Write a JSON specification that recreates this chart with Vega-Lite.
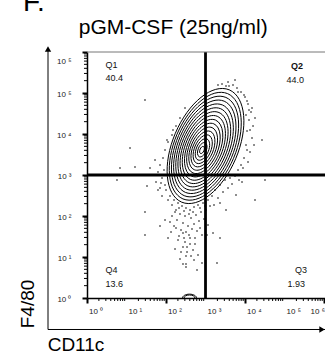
{
  "$schema": "https://vega.github.io/schema/vega-lite/v6.json",
  "width": 238,
  "height": 246,
  "autosize": {"type": "none"},
  "padding": {"left": 87, "top": 52, "right": 0, "bottom": 56},
  "config": {"view": {"stroke": null}, "font": "Liberation Sans", "axis": {"labelOverlap": false}},
  "datasets": {
    "dots": [
      {"CD11c": 3.570, "F4_80": 5.268}, {"CD11c": 3.696, "F4_80": 5.195}, {"CD11c": 3.797, "F4_80": 5.122},
      {"CD11c": 3.899, "F4_80": 5.024}, {"CD11c": 3.519, "F4_80": 5.171}, {"CD11c": 4.000, "F4_80": 4.902},
      {"CD11c": 4.076, "F4_80": 4.732}, {"CD11c": 4.101, "F4_80": 4.585}, {"CD11c": 4.152, "F4_80": 4.537},
      {"CD11c": 4.101, "F4_80": 4.341}, {"CD11c": 4.203, "F4_80": 4.195}, {"CD11c": 4.051, "F4_80": 4.073},
      {"CD11c": 4.177, "F4_80": 3.902}, {"CD11c": 4.025, "F4_80": 3.732}, {"CD11c": 4.127, "F4_80": 3.561},
      {"CD11c": 3.975, "F4_80": 3.415}, {"CD11c": 3.899, "F4_80": 3.244}, {"CD11c": 4.076, "F4_80": 3.317},
      {"CD11c": 3.823, "F4_80": 3.122}, {"CD11c": 3.747, "F4_80": 2.976}, {"CD11c": 4.253, "F4_80": 4.390},
      {"CD11c": 4.051, "F4_80": 4.805}, {"CD11c": 3.975, "F4_80": 4.951}, {"CD11c": 3.595, "F4_80": 5.171},
      {"CD11c": 3.418, "F4_80": 5.220}, {"CD11c": 3.316, "F4_80": 5.195}, {"CD11c": 3.747, "F4_80": 5.317},
      {"CD11c": 2.481, "F4_80": 4.634}, {"CD11c": 2.354, "F4_80": 4.390}, {"CD11c": 2.253, "F4_80": 4.195},
      {"CD11c": 2.152, "F4_80": 3.976}, {"CD11c": 2.051, "F4_80": 3.805}, {"CD11c": 1.975, "F4_80": 3.610},
      {"CD11c": 1.924, "F4_80": 3.415}, {"CD11c": 1.848, "F4_80": 3.244}, {"CD11c": 1.797, "F4_80": 3.073},
      {"CD11c": 1.899, "F4_80": 2.927}, {"CD11c": 1.747, "F4_80": 2.829}, {"CD11c": 1.848, "F4_80": 2.683},
      {"CD11c": 2.000, "F4_80": 2.634}, {"CD11c": 2.101, "F4_80": 2.488}, {"CD11c": 2.203, "F4_80": 2.390},
      {"CD11c": 1.899, "F4_80": 2.488}, {"CD11c": 1.646, "F4_80": 3.000}, {"CD11c": 1.595, "F4_80": 3.171},
      {"CD11c": 1.722, "F4_80": 3.366}, {"CD11c": 1.519, "F4_80": 2.732}, {"CD11c": 1.468, "F4_80": 2.098},
      {"CD11c": 2.025, "F4_80": 3.854}, {"CD11c": 2.177, "F4_80": 4.098},
      {"CD11c": 2.304, "F4_80": 2.317}, {"CD11c": 2.405, "F4_80": 2.244}, {"CD11c": 2.506, "F4_80": 2.195},
      {"CD11c": 2.608, "F4_80": 2.146}, {"CD11c": 2.709, "F4_80": 2.220}, {"CD11c": 2.810, "F4_80": 2.268},
      {"CD11c": 2.937, "F4_80": 2.317}, {"CD11c": 3.063, "F4_80": 2.390}, {"CD11c": 3.165, "F4_80": 2.488},
      {"CD11c": 2.253, "F4_80": 2.146}, {"CD11c": 2.354, "F4_80": 2.049}, {"CD11c": 2.481, "F4_80": 2.000},
      {"CD11c": 2.633, "F4_80": 1.951}, {"CD11c": 2.759, "F4_80": 2.024}, {"CD11c": 2.886, "F4_80": 2.098},
      {"CD11c": 3.013, "F4_80": 2.146}, {"CD11c": 3.114, "F4_80": 2.244}, {"CD11c": 2.152, "F4_80": 2.000},
      {"CD11c": 2.278, "F4_80": 1.902}, {"CD11c": 2.430, "F4_80": 1.829}, {"CD11c": 2.557, "F4_80": 1.756},
      {"CD11c": 2.709, "F4_80": 1.805}, {"CD11c": 2.835, "F4_80": 1.878}, {"CD11c": 2.962, "F4_80": 1.927},
      {"CD11c": 2.380, "F4_80": 1.659}, {"CD11c": 2.506, "F4_80": 1.610}, {"CD11c": 2.658, "F4_80": 1.683},
      {"CD11c": 2.785, "F4_80": 1.634}, {"CD11c": 2.203, "F4_80": 1.756}, {"CD11c": 2.127, "F4_80": 1.610},
      {"CD11c": 2.430, "F4_80": 1.585}, {"CD11c": 2.911, "F4_80": 1.537}, {"CD11c": 3.038, "F4_80": 1.537},
      {"CD11c": 3.190, "F4_80": 1.585}, {"CD11c": 3.367, "F4_80": 1.463}, {"CD11c": 2.304, "F4_80": 1.415},
      {"CD11c": 2.481, "F4_80": 1.366}, {"CD11c": 2.608, "F4_80": 1.463}, {"CD11c": 2.734, "F4_80": 1.317},
      {"CD11c": 2.430, "F4_80": 1.244}, {"CD11c": 2.532, "F4_80": 1.244}, {"CD11c": 2.228, "F4_80": 1.195},
      {"CD11c": 2.532, "F4_80": 1.122}, {"CD11c": 2.506, "F4_80": 1.024}, {"CD11c": 2.633, "F4_80": 1.024},
      {"CD11c": 2.354, "F4_80": 0.951}, {"CD11c": 2.430, "F4_80": 0.829}, {"CD11c": 2.506, "F4_80": 0.829},
      {"CD11c": 2.506, "F4_80": 0.756}, {"CD11c": 2.911, "F4_80": 0.854}, {"CD11c": 3.291, "F4_80": 0.854},
      {"CD11c": 2.785, "F4_80": 0.683}, {"CD11c": 2.684, "F4_80": 1.171}, {"CD11c": 2.810, "F4_80": 1.049},
      {"CD11c": 1.975, "F4_80": 1.902}, {"CD11c": 1.848, "F4_80": 1.756}, {"CD11c": 2.051, "F4_80": 1.463},
      {"CD11c": 3.241, "F4_80": 2.634}, {"CD11c": 3.367, "F4_80": 2.756}, {"CD11c": 3.494, "F4_80": 2.878},
      {"CD11c": 3.620, "F4_80": 2.927}, {"CD11c": 3.316, "F4_80": 2.439}, {"CD11c": 3.443, "F4_80": 2.585},
      {"CD11c": 3.570, "F4_80": 2.683}, {"CD11c": 3.671, "F4_80": 2.780}, {"CD11c": 3.215, "F4_80": 2.268},
      {"CD11c": 3.367, "F4_80": 2.317}, {"CD11c": 3.772, "F4_80": 2.512}, {"CD11c": 3.924, "F4_80": 2.829},
      {"CD11c": 3.519, "F4_80": 2.146},
      {"CD11c": 1.089, "F4_80": 3.659}, {"CD11c": 1.215, "F4_80": 3.195}, {"CD11c": 0.759, "F4_80": 2.878},
      {"CD11c": 0.835, "F4_80": 3.171}, {"CD11c": 1.468, "F4_80": 4.829}, {"CD11c": 4.430, "F4_80": 3.854},
      {"CD11c": 4.506, "F4_80": 2.878}, {"CD11c": 4.253, "F4_80": 2.390}, {"CD11c": 1.468, "F4_80": 1.537},
      {"CD11c": 2.152, "F4_80": 2.268}, {"CD11c": 2.051, "F4_80": 2.390}, {"CD11c": 2.228, "F4_80": 2.098},
      {"CD11c": 2.329, "F4_80": 2.195}, {"CD11c": 2.456, "F4_80": 2.122}, {"CD11c": 2.582, "F4_80": 2.049},
      {"CD11c": 2.684, "F4_80": 2.098}, {"CD11c": 2.861, "F4_80": 2.195}, {"CD11c": 2.987, "F4_80": 2.244},
      {"CD11c": 2.101, "F4_80": 1.854}, {"CD11c": 2.253, "F4_80": 1.707}, {"CD11c": 2.582, "F4_80": 1.537},
      {"CD11c": 2.734, "F4_80": 1.463}, {"CD11c": 2.329, "F4_80": 1.512}, {"CD11c": 2.456, "F4_80": 1.463},
      {"CD11c": 2.861, "F4_80": 1.707}, {"CD11c": 3.063, "F4_80": 1.780}, {"CD11c": 2.608, "F4_80": 1.317},
      {"CD11c": 2.380, "F4_80": 1.122}, {"CD11c": 2.709, "F4_80": 0.927}, {"CD11c": 4.127, "F4_80": 4.098},
      {"CD11c": 4.228, "F4_80": 3.732}, {"CD11c": 4.051, "F4_80": 3.610}, {"CD11c": 3.949, "F4_80": 3.171},
      {"CD11c": 3.848, "F4_80": 2.878}, {"CD11c": 4.177, "F4_80": 4.634}, {"CD11c": 4.025, "F4_80": 4.463},
      {"CD11c": 3.823, "F4_80": 5.024}, {"CD11c": 1.949, "F4_80": 3.122}, {"CD11c": 1.873, "F4_80": 2.805},
      {"CD11c": 1.797, "F4_80": 2.634}, {"CD11c": 1.975, "F4_80": 2.756}
    ],
    "rings": [
      {"ring": 1, "CD11c": 2.911, "F4_80": 3.610},
      {"ring": 2, "CD11c": 2.917, "F4_80": 3.616},
      {"ring": 3, "CD11c": 2.923, "F4_80": 3.623},
      {"ring": 4, "CD11c": 2.929, "F4_80": 3.629},
      {"ring": 5, "CD11c": 2.935, "F4_80": 3.636},
      {"ring": 6, "CD11c": 2.941, "F4_80": 3.642},
      {"ring": 7, "CD11c": 2.947, "F4_80": 3.649},
      {"ring": 8, "CD11c": 2.953, "F4_80": 3.655},
      {"ring": 9, "CD11c": 2.958, "F4_80": 3.662},
      {"ring": 10, "CD11c": 2.964, "F4_80": 3.668},
      {"ring": 11, "CD11c": 2.970, "F4_80": 3.675},
      {"ring": 12, "CD11c": 2.976, "F4_80": 3.681},
      {"ring": 13, "CD11c": 2.982, "F4_80": 3.688},
      {"ring": 14, "CD11c": 2.988, "F4_80": 3.694},
      {"ring": 15, "CD11c": 2.994, "F4_80": 3.701},
      {"ring": 16, "CD11c": 3.000, "F4_80": 3.707}
    ],
    "baseArcs": [
      {"ring": 1.84, "CD11c": 2.595, "F4_80": 0},
      {"ring": 1.44, "CD11c": 2.595, "F4_80": 0}
    ],
    "minor": [
      {"v": 0.301}, {"v": 0.477}, {"v": 0.602}, {"v": 0.699}, {"v": 0.778}, {"v": 0.845}, {"v": 0.903}, {"v": 0.954},
      {"v": 1.301}, {"v": 1.477}, {"v": 1.602}, {"v": 1.699}, {"v": 1.778}, {"v": 1.845}, {"v": 1.903}, {"v": 1.954},
      {"v": 2.301}, {"v": 2.477}, {"v": 2.602}, {"v": 2.699}, {"v": 2.778}, {"v": 2.845}, {"v": 2.903}, {"v": 2.954},
      {"v": 3.301}, {"v": 3.477}, {"v": 3.602}, {"v": 3.699}, {"v": 3.778}, {"v": 3.845}, {"v": 3.903}, {"v": 3.954},
      {"v": 4.301}, {"v": 4.477}, {"v": 4.602}, {"v": 4.699}, {"v": 4.778}, {"v": 4.845}, {"v": 4.903}, {"v": 4.954},
      {"v": 5.301}, {"v": 5.477}, {"v": 5.602}, {"v": 5.699}, {"v": 5.778}, {"v": 5.845}, {"v": 5.903}, {"v": 5.954}
    ],
    "xlabels": [
      {"v": 0, "lab": "10 ⁰"}, {"v": 1, "lab": "10 ¹"}, {"v": 2, "lab": "10 ²"}, {"v": 3, "lab": "10 ³"},
      {"v": 4, "lab": "10 ⁴"}, {"v": 5, "lab": "10 ⁵"}, {"v": 6, "lab": "10 ⁶"}
    ],
    "labels": [
      {"t": "Q1", "CD11c": 0.468, "F4_80": 5.683},
      {"t": "40.4", "CD11c": 0.468, "F4_80": 5.366},
      {"t": "Q4", "CD11c": 0.468, "F4_80": 0.683},
      {"t": "13.6", "CD11c": 0.468, "F4_80": 0.341},
      {"t": "Q2", "CD11c": 5.468, "F4_80": 5.659},
      {"t": "44.0", "CD11c": 5.494, "F4_80": 5.317},
      {"t": "Q3", "CD11c": 5.570, "F4_80": 0.683},
      {"t": "1.93", "CD11c": 5.519, "F4_80": 0.341}
    ]
  },
  "layer": [
    {
      "data": {"name": "dots"},
      "mark": {"type": "point", "shape": "square", "filled": true, "size": 2.5, "color": "#000", "opacity": 0.75, "strokeWidth": 0},
      "encoding": {
        "x": {
          "field": "CD11c", "type": "quantitative",
          "scale": {"domain": [0, 6.025], "nice": false, "zero": false},
          "axis": {
            "title": "CD11c", "titleFont": "Liberation Sans", "titleFontSize": 19, "titleFontWeight": "normal", "titleColor": "#000",
            "titleX": -11.5, "titleY": 52, "titleAlign": "center", "titleBaseline": "alphabetic", "titleAngle": 0,
            "values": [0, 1, 2, 3, 4, 5, 6],
            "labels": false,
            "tickSize": 5, "tickWidth": 2,
            "tickColor": "#000", "domainColor": "#000", "domainWidth": 1.5, "grid": false
          }
        },
        "y": {
          "field": "F4_80", "type": "quantitative",
          "scale": {"domain": [0, 6], "nice": false, "zero": false},
          "axis": {
            "title": "F4/80", "titleFont": "Liberation Sans", "titleFontSize": 19, "titleFontWeight": "normal", "titleColor": "#000",
            "titleX": -54, "titleY": 251.5, "titleAlign": "center", "titleBaseline": "alphabetic", "titleAngle": -90,
            "values": [0, 1, 2, 3, 4, 5, 6],
            "labelExpr": "'10 ' + ['⁰','¹','²','³','⁴','⁵','⁵'][datum.value]",
            "labelFont": "Liberation Sans", "labelFontSize": 8, "labelColor": "#222", "labelPadding": 11,
            "labelOverlap": false, "labelBound": false, "labelFlush": false,
            "labelAlign": "right", "labelBaseline": "middle",
            "labelOffset": {"condition": {"test": "datum.value > 5.99", "value": 9}, "value": 1},
            "tickSize": 5, "tickWidth": 2,
            "tickColor": "#000", "domainColor": "#000", "domainWidth": 1.5, "grid": false
          }
        }
      }
    },
    {
      "data": {"name": "minor"},
      "mark": {"type": "rule", "color": "#000", "strokeWidth": 1},
      "encoding": {"x": {"field": "v", "type": "quantitative"}, "y": {"datum": 0}, "y2": {"datum": -0.073}}
    },
    {
      "data": {"name": "minor"},
      "mark": {"type": "rule", "color": "#000", "strokeWidth": 1},
      "encoding": {"y": {"field": "v", "type": "quantitative"}, "x": {"datum": 0}, "x2": {"datum": -0.076}}
    },
    {
      "data": {"name": "xlabels"},
      "transform": [{"filter": "datum.v < 5.5"}],
      "mark": {"type": "text", "align": "left", "baseline": "alphabetic", "dx": 2, "dy": 16, "font": "Liberation Sans", "fontSize": 8, "color": "#222"},
      "encoding": {"x": {"field": "v", "type": "quantitative"}, "y": {"datum": 0}, "text": {"field": "lab"}}
    },
    {
      "data": {"name": "xlabels"},
      "transform": [{"filter": "datum.v > 5.5"}],
      "mark": {"type": "text", "align": "right", "baseline": "alphabetic", "dx": 1, "dy": 16, "font": "Liberation Sans", "fontSize": 8, "color": "#222"},
      "encoding": {"x": {"field": "v", "type": "quantitative"}, "y": {"datum": 0}, "text": {"field": "lab"}}
    },
    {
      "data": {"name": "rings"},
      "mark": {"type": "point", "shape": "M0.3907,-0.9205A1,0.54,-67,0,1,-0.3907,0.9205A1,0.54,-67,0,1,0.3907,-0.9205Z", "filled": false, "color": "#000", "strokeWidth": 1, "opacity": 1},
      "encoding": {
        "x": {"field": "CD11c", "type": "quantitative"},
        "y": {"field": "F4_80", "type": "quantitative"},
        "size": {"field": "ring", "type": "quantitative", "scale": {"type": "pow", "exponent": 2, "domain": [0, 16], "range": [0, 14884]}, "legend": null}
      }
    },
    {
      "data": {"name": "baseArcs"},
      "mark": {"type": "point", "shape": "M-1,0A1,0.55,0,0,1,1,0A1,0.55,0,0,1,-1,0Z", "filled": false, "color": "#000", "strokeWidth": 1, "opacity": 1, "clip": true},
      "encoding": {
        "x": {"field": "CD11c", "type": "quantitative"},
        "y": {"field": "F4_80", "type": "quantitative"},
        "size": {"field": "ring", "type": "quantitative", "legend": null}
      }
    },
    {
      "data": {"values": [{}]},
      "mark": {"type": "rule", "color": "#000", "strokeWidth": 2.8},
      "encoding": {"x": {"datum": 3}}
    },
    {
      "data": {"values": [{}]},
      "mark": {"type": "rule", "color": "#000", "strokeWidth": 2.8},
      "encoding": {"y": {"datum": 3}}
    },
    {
      "data": {"values": [{}]},
      "mark": {"type": "rule", "color": "#777", "strokeWidth": 1},
      "encoding": {"y": {"datum": 6}}
    },
    {
      "data": {"values": [{}]},
      "mark": {"type": "rule", "color": "#000", "strokeWidth": 1},
      "encoding": {"x": {"datum": -0.987}, "y": {"datum": -0.768}, "y2": {"datum": 6.05}}
    },
    {
      "data": {"values": [{}]},
      "mark": {"type": "rule", "color": "#000", "strokeWidth": 1},
      "encoding": {"x": {"datum": -0.987}, "x2": {"datum": 6.3}, "y": {"datum": -0.768}}
    },
    {
      "data": {"values": [{}]},
      "mark": {"type": "point", "shape": "triangle-up", "filled": true, "size": 40, "color": "#000", "opacity": 1},
      "encoding": {"x": {"datum": -0.987}, "y": {"datum": 6.073}}
    },
    {
      "data": {"values": [{}]},
      "mark": {"type": "point", "shape": "triangle-right", "filled": true, "size": 40, "color": "#000", "opacity": 1},
      "encoding": {"x": {"datum": 5.95}, "y": {"datum": -0.768}}
    },
    {
      "data": {"name": "labels"},
      "transform": [{"filter": "datum.CD11c < 3"}],
      "mark": {"type": "text", "align": "left", "baseline": "middle", "font": "Liberation Sans", "fontSize": 9, "color": "#111"},
      "encoding": {
        "x": {"field": "CD11c", "type": "quantitative"},
        "y": {"field": "F4_80", "type": "quantitative"},
        "text": {"field": "t"}
      }
    },
    {
      "data": {"name": "labels"},
      "transform": [{"filter": "datum.CD11c > 3 && datum.t != 'Q2'"}],
      "mark": {"type": "text", "align": "right", "baseline": "middle", "font": "Liberation Sans", "fontSize": 9, "color": "#111"},
      "encoding": {
        "x": {"field": "CD11c", "type": "quantitative"},
        "y": {"field": "F4_80", "type": "quantitative"},
        "text": {"field": "t"}
      }
    },
    {
      "data": {"name": "labels"},
      "transform": [{"filter": "datum.t == 'Q2'"}],
      "mark": {"type": "text", "align": "right", "baseline": "middle", "font": "Liberation Sans", "fontSize": 9, "fontWeight": "bold", "color": "#111"},
      "encoding": {
        "x": {"field": "CD11c", "type": "quantitative"},
        "y": {"field": "F4_80", "type": "quantitative"},
        "text": {"field": "t"}
      }
    },
    {
      "data": {"values": [{}]},
      "mark": {"type": "text", "text": "pGM-CSF (25ng/ml)", "align": "left", "baseline": "alphabetic", "font": "Liberation Sans", "fontSize": 21, "color": "#000"},
      "encoding": {"x": {"datum": -0.21}, "y": {"datum": 6.439}}
    },
    {
      "data": {"values": [{}]},
      "mark": {"type": "text", "text": "F.", "align": "left", "baseline": "alphabetic", "font": "Liberation Sans", "fontSize": 28, "color": "#000"},
      "encoding": {"x": {"datum": -1.62}, "y": {"datum": 7.012}}
    }
  ]
}
